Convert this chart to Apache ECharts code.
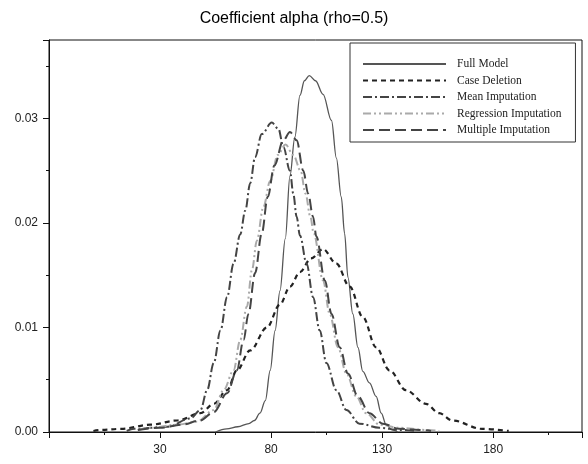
<!DOCTYPE html>
<html>
<head>
	<meta charset="utf-8">
	<title>Coefficient alpha</title>
	<script src="https://cdn.jsdelivr.net/npm/echarts@6/dist/echarts.min.js"></script>
	<style>
		html, body { margin: 0; padding: 0; background: #fff; }
		#chart { width: 588px; height: 464px; }
	</style>
</head>
<body>
	<div id="chart"></div>
	<script>
		// density curves, [x, density]
		var fullModel = [[55, 0], [60, 0.0003], [65, 0.0005], [70, 0.0008], [72.5, 0.0011], [75, 0.0018], [77.4, 0.0030], [79.6, 0.0059], [81.8, 0.0097], [84, 0.0135], [86.4, 0.0185], [88.5, 0.0245], [90.7, 0.0282], [93, 0.0322], [95, 0.0336], [97.2, 0.0341], [100, 0.0336], [103.4, 0.0323], [107.2, 0.0298], [109.4, 0.0262], [111.6, 0.0225], [113.1, 0.0190], [114.6, 0.0148], [116.8, 0.0113], [119.1, 0.0081], [121.3, 0.0058], [124.3, 0.0047], [127.3, 0.0034], [129.6, 0.0018], [131.8, 0.0007], [134.6, 0.0002], [137, 0]];
		var caseDeletion = [[0, 0.0001], [3.4, 0.0002], [12.4, 0.0003], [25.8, 0.0007], [37.8, 0.0011], [48.2, 0.0018], [54.2, 0.0027], [60.2, 0.0040], [64.6, 0.0059], [70.6, 0.0078], [78.1, 0.0100], [84, 0.0122], [88.5, 0.0139], [93, 0.0153], [98, 0.0166], [103.4, 0.0175], [109.4, 0.0161], [115.4, 0.0139], [121.3, 0.0110], [127.3, 0.0081], [133.3, 0.0059], [140.7, 0.0040], [149.7, 0.0027], [155.7, 0.0018], [161.6, 0.0011], [175, 0.0003], [187, 0.0001]];
		var meanImputation = [[15, 0.0001], [18.4, 0.0003], [33.3, 0.0005], [43.7, 0.0013], [48.2, 0.0021], [51.2, 0.0040], [54.2, 0.0066], [57.2, 0.0097], [60.2, 0.0129], [63.1, 0.0161], [66.1, 0.0189], [68.4, 0.0212], [70.6, 0.0238], [72.8, 0.0263], [75.8, 0.0285], [80.3, 0.0296], [83.3, 0.0290], [85.5, 0.0273], [88.5, 0.0250], [90, 0.0228], [91.5, 0.0206], [93, 0.0188], [96, 0.0161], [98.9, 0.0129], [101.9, 0.0097], [104.9, 0.0066], [109.4, 0.0040], [113.9, 0.0021], [119.8, 0.0008], [128.8, 0.0004], [137.7, 0.0002], [145, 0.0001]];
		var regressionImputation = [[20, 0.0002], [25.8, 0.0004], [37.8, 0.0007], [46.7, 0.0010], [54.2, 0.0021], [58.6, 0.0040], [63.1, 0.0059], [66.1, 0.0088], [69.1, 0.0120], [71.4, 0.0155], [73.6, 0.0183], [76.5, 0.0215], [79.6, 0.0240], [83, 0.0265], [86.5, 0.0275], [90, 0.0265], [93.3, 0.0250], [95.5, 0.0228], [97.7, 0.0206], [99.2, 0.0190], [103.4, 0.0145], [106.4, 0.0113], [110.1, 0.0081], [113.9, 0.0056], [118.4, 0.0034], [122.8, 0.0018], [128.8, 0.0007], [137.7, 0.0004], [149.7, 0.0002], [155.7, 0.0001]];
		var multipleImputation = [[20, 0.0002], [30, 0.0004], [40, 0.0007], [48, 0.0011], [54.2, 0.0019], [60.2, 0.0037], [64.6, 0.0059], [67.6, 0.0088], [69.8, 0.0113], [72.8, 0.0152], [75.8, 0.0190], [78.5, 0.0225], [81.5, 0.0255], [85.5, 0.0279], [88.5, 0.0287], [91.5, 0.0279], [94.5, 0.0250], [96.7, 0.0228], [98.9, 0.0206], [100.4, 0.0187], [104.2, 0.0145], [107.2, 0.0113], [110.9, 0.0081], [114.6, 0.0056], [119.1, 0.0034], [124.3, 0.0018], [130.3, 0.0008], [137.7, 0.0003], [146.7, 0.0002], [152, 0.0001]];

		var seriesNames = ['Full Model', 'Case Deletion', 'Mean Imputation', 'Regression Imputation', 'Multiple Imputation'];
		var seriesData = [fullModel, caseDeletion, meanImputation, regressionImputation, multipleImputation];
		var xTickLabels = [30, 80, 130, 180];
		var yTickLabels = [0, 0.01, 0.02, 0.03];

		var lineStyles = [
			{color: '#555', width: 1.3, type: 'solid'},
			{color: '#222', width: 2.2, type: [5, 4]},
			{color: '#444', width: 2, type: [9, 3, 2, 3]},
			{color: '#aaa', width: 2, type: [8, 3, 2, 3, 2, 3]},
			{color: '#444', width: 2, type: [11, 5]}
		];

		var sans = '"Liberation Sans", Arial, sans-serif';
		var serif = '"Liberation Serif", "Times New Roman", serif';

		var chart = echarts.init(document.getElementById('chart'), null, {renderer: 'canvas'});

		var series = seriesNames.map(function (name, i) {
			return {
				name: name,
				type: 'line',
				data: seriesData[i],
				showSymbol: false,
				symbol: 'none',
				smooth: 0.35,
				smoothMonotone: 'x',
				lineStyle: lineStyles[i],
				itemStyle: {color: lineStyles[i].color},
				z: 3
			};
		});

		var option = {
			animation: false,
			backgroundColor: '#fff',
			title: {
				text: 'Coefficient alpha (rho=0.5)',
				left: 'center',
				top: 6,
				textStyle: {fontFamily: sans, fontSize: 16, fontWeight: 'normal', color: '#000'}
			},
			legend: {
				orient: 'vertical',
				left: 350,
				top: 43,
				itemWidth: 83,
				itemHeight: 10,
				itemGap: 4.5,
				padding: [15, 14, 6, 12],
				backgroundColor: '#fff',
				borderColor: '#333',
				borderWidth: 1,
				itemStyle: {opacity: 0},
				textStyle: {fontFamily: serif, fontSize: 11.5, color: '#222', padding: [0, 0, 0, 6]},
				data: seriesNames
			},
			grid: {
				left: 49, right: 6, top: 40, bottom: 32,
				show: true, borderColor: '#111', borderWidth: 1
			},
			xAxis: [{
				type: 'value', min: -20, max: 220, interval: 50,
				axisLine: {onZero: false, lineStyle: {color: '#111'}},
				axisTick: {length: 6, lineStyle: {color: '#111'}},
				splitLine: {show: false},
				axisLabel: {
					margin: 12, fontFamily: sans, fontSize: 12, color: '#222',
					formatter: function (v) { return xTickLabels.indexOf(v) >= 0 ? String(v) : ''; }
				}
			}, {
				type: 'value', min: -20, max: 220, interval: 25, position: 'bottom',
				axisLine: {show: false, onZero: false},
				axisTick: {length: 3, lineStyle: {color: '#111'}},
				splitLine: {show: false},
				axisLabel: {show: false}
			}],
			yAxis: [{
				type: 'value', min: 0, max: 0.0375, interval: 0.01, position: 'left',
				axisLine: {show: true, onZero: false, lineStyle: {color: '#111'}},
				axisTick: {show: true, length: 6, lineStyle: {color: '#111'}},
				splitLine: {show: false},
				axisLabel: {
					margin: 11, fontFamily: sans, fontSize: 12, color: '#222',
					formatter: function (v) {
						for (var k = 0; k < yTickLabels.length; k++) {
							if (Math.abs(v - yTickLabels[k]) < 1e-9) return yTickLabels[k].toFixed(2);
						}
						return '';
					}
				}
			}, {
				type: 'value', min: 0, max: 0.0375, interval: 0.005, position: 'left',
				axisLine: {show: false, onZero: false},
				axisTick: {show: true, length: 3, lineStyle: {color: '#111'}},
				splitLine: {show: false},
				axisLabel: {show: false}
			}],
			series: series
		};

		chart.setOption(option);
	</script>
</body>
</html>
